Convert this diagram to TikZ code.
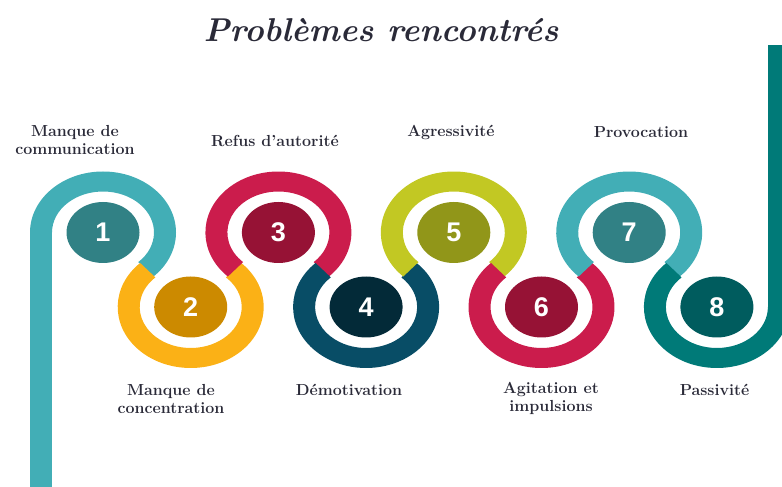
\documentclass[tikz,border=0pt]{standalone}
\usepackage{fontspec}
\setsansfont{Liberation Sans}
\usetikzlibrary{shapes.geometric,calc}
\definecolor{ringA}{HTML}{42AEB6}
\definecolor{dotA}{HTML}{318185}
\definecolor{ringB}{HTML}{FBB116}
\definecolor{dotB}{HTML}{CC8A00}
\definecolor{ringC}{HTML}{CB1C4C}
\definecolor{dotC}{HTML}{961235}
\definecolor{ringD}{HTML}{084D66}
\definecolor{dotD}{HTML}{032A38}
\definecolor{ringE}{HTML}{C2C823}
\definecolor{dotE}{HTML}{919619}
\definecolor{ringH}{HTML}{007A78}
\definecolor{dotH}{HTML}{005C5E}
\definecolor{txt}{HTML}{2A2A38}
\newcommand\annseg[5]{%
  \fill[#5] ($(#1,#2)+(#3:73pt and 61pt)$) arc[start angle=#3,end angle=#4,x radius=73pt,y radius=61pt]
    -- ($(#1,#2)+(#4:51pt and 41pt)$) arc[start angle=#4,end angle=#3,x radius=51pt,y radius=41pt] -- cycle;}
\begin{document}
\begin{tikzpicture}[x=1pt,y=1pt,
  lbl/.style={font=\fontsize{16}{18}\selectfont\bfseries, text=txt, align=center, inner sep=0pt},
  num/.style={ellipse, minimum width=73pt, minimum height=61pt, inner sep=0pt, text=white,
    font=\sffamily\bfseries\fontsize{27}{27}\selectfont}]
\useasboundingbox (0,0) rectangle (782,487);
\clip (0,0) rectangle (782,487);
% rings
\fill[ringA] (30,0) rectangle (52,254.5);
\annseg{103}{254.5}{180}{-46.2}{ringA}
\annseg{190.7}{180}{133.8}{406.2}{ringB}
\annseg{278.4}{254.5}{226.2}{-46.2}{ringC}
\annseg{366.1}{180}{133.8}{406.2}{ringD}
\annseg{453.8}{254.5}{226.2}{-46.2}{ringE}
\annseg{541.5}{180}{133.8}{406.2}{ringC}
\annseg{629.2}{254.5}{226.2}{-46.2}{ringA}
\annseg{716.9}{180}{133.8}{360}{ringH}
\fill[ringH] (767.9,180) rectangle (790,442);
% numbered discs
\node[num, fill=dotA] (n1) at (103,254.5) {1};
\node[num, fill=dotB] (n2) at (190.7,180) {2};
\node[num, fill=dotC] (n3) at (278.4,254.5) {3};
\node[num, fill=dotD] (n4) at (366.1,180) {4};
\node[num, fill=dotE] (n5) at (453.8,254.5) {5};
\node[num, fill=dotC] (n6) at (541.5,180) {6};
\node[num, fill=dotA] (n7) at (629.2,254.5) {7};
\node[num, fill=dotH] (n8) at (716.9,180) {8};
% title
\node[font=\fontsize{33}{33}\selectfont\bfseries\itshape, text=txt, inner sep=0pt] (title) at (381,457) {Problèmes rencontrés};
% labels
\node[lbl] (l1) at (75,347) {Manque de\\communication};
\node[lbl] (l3) at (275,346) {Refus d’autorité};
\node[lbl] (l5) at (451,355) {Agressivité};
\node[lbl] (l7) at (641,355) {Provocation};
\node[lbl] (l2) at (171,88.5) {Manque de\\concentration};
\node[lbl] (l4) at (349,97) {Démotivation};
\node[lbl] (l6) at (551,88.5) {Agitation et\\impulsions};
\node[lbl] (l8) at (714.5,97) {Passivité};
\end{tikzpicture}
\end{document}
